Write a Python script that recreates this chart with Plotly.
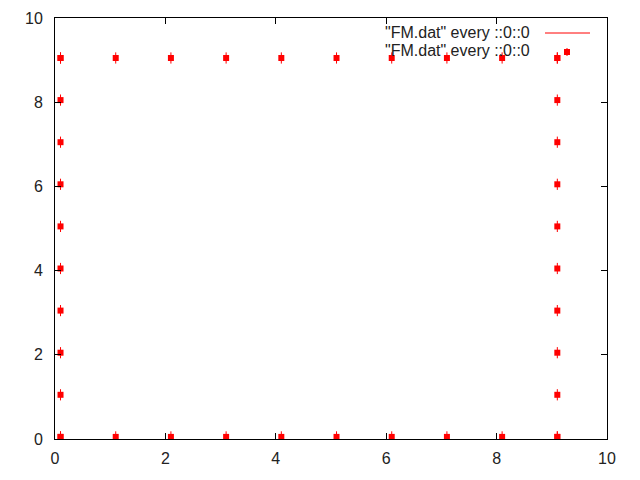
import plotly.graph_objects as go

# data: points around the perimeter of a square
bottom_x = [0.1, 1.1, 2.1, 3.1, 4.1, 5.1, 6.1, 7.1, 8.1, 9.1]
bottom_y = [0.05] * 10
top_x = [0.1, 1.1, 2.1, 3.1, 4.1, 5.1, 6.1, 7.1, 8.1, 9.1]
top_y = [9.05] * 10
left_x = [0.1] * 10
left_y = [0.05, 1.05, 2.05, 3.05, 4.05, 5.05, 6.05, 7.05, 8.05, 9.05]
right_x = [9.1] * 10
right_y = [0.05, 1.05, 2.05, 3.05, 4.05, 5.05, 6.05, 7.05, 8.05, 9.05]

xs = bottom_x + top_x + left_x + right_x
ys = bottom_y + top_y + left_y + right_y

legend_label = '"FM.dat" every ::0::0'
tick_vals = [0, 2, 4, 6, 8, 10]
tick_text = ["0", "2", "4", "6", "8", "10"]

RED = "#ff0000"
FONT = "Liberation Sans, Arial, sans-serif"
TXT = "#222222"

fig = go.Figure()
fig.add_trace(go.Scatter(x=xs, y=ys, mode="markers", showlegend=False,
                         marker=dict(symbol="line-ns", size=8, color=RED,
                                     line=dict(color=RED, width=1)),
                         hoverinfo="skip"))
fig.add_trace(go.Scatter(x=xs, y=ys, mode="markers", showlegend=False,
                         marker=dict(symbol="square", size=6, color=RED,
                                     line=dict(width=0))))

# the page body adds an 8px offset; compensate in the margins
OFF = 8
W, H = 640, 480
L, R, T, B = 55 - OFF, 33 + OFF, 18 - OFF, 41 + OFF
pw, ph = W - L - R, H - T - B

def px(x):
    return (x - OFF - L) / pw

def py(y):
    return (H - B - (y - OFF)) / ph

axis_common = dict(range=[0, 10], tickvals=tick_vals, ticktext=tick_text,
                   ticks="inside", ticklen=6, tickcolor="black", tickwidth=1,
                   showline=True, linecolor="black", linewidth=1,
                   mirror="allticks", showgrid=False, zeroline=False,
                   automargin=False,
                   tickfont=dict(family=FONT, size=16, color=TXT))

fig.update_layout(
    width=W, height=H,
    margin=dict(l=L, r=R, t=T, b=B, pad=0, autoexpand=False),
    paper_bgcolor="white", plot_bgcolor="white",
    xaxis=dict(**axis_common, ticklabelstandoff=5),
    yaxis=dict(**axis_common, ticklabelstandoff=8),
    showlegend=False,
    annotations=[
        dict(xref="paper", yref="paper", x=px(532), y=py(32), text=legend_label,
             showarrow=False, xanchor="right", yanchor="middle",
             font=dict(family=FONT, size=16, color=TXT)),
        dict(xref="paper", yref="paper", x=px(532), y=py(50), text=legend_label,
             showarrow=False, xanchor="right", yanchor="middle",
             font=dict(family=FONT, size=16, color=TXT)),
    ],
    shapes=[
        dict(type="line", xref="paper", yref="paper", x0=px(545), x1=px(590),
             y0=py(33), y1=py(33), line=dict(color=RED, width=1)),
        dict(type="rect", xref="paper", yref="paper", x0=px(564), x1=px(570),
             y0=py(49), y1=py(55), fillcolor=RED, line=dict(width=0)),
        dict(type="line", xref="paper", yref="paper", x0=px(567), x1=px(567),
             y0=py(48), y1=py(56), line=dict(color=RED, width=1)),
    ],
)

fig.write_html("out.html")
